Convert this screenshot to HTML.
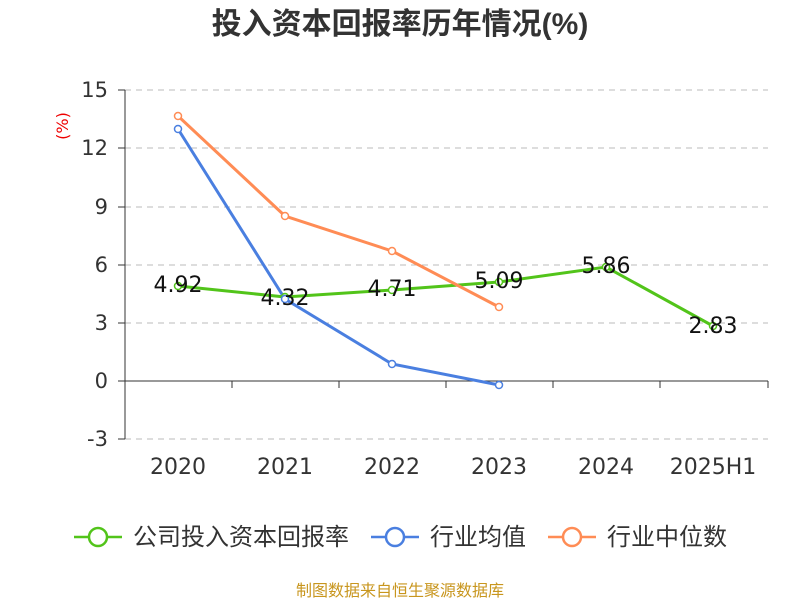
<!DOCTYPE html>
<html><head><meta charset="utf-8"><style>body{margin:0;background:#fff}svg{display:block}</style></head><body>
<svg width="800" height="600" xmlns="http://www.w3.org/2000/svg" font-family="DejaVu Sans, Noto Sans CJK SC, sans-serif">
<text x="400" y="34" text-anchor="middle" font-size="30" font-weight="bold" fill="#333" font-family="Liberation Sans, Noto Sans CJK SC, sans-serif">投入资本回报率历年情况(%)</text>
<text x="68" y="126" font-size="16" fill="#e00" transform="rotate(-90 68 126)" text-anchor="middle">(%)</text>
<g stroke="#bbb" stroke-dasharray="6,5">
<line x1="125" y1="90" x2="768" y2="90"/><line x1="125" y1="148" x2="768" y2="148"/><line x1="125" y1="207" x2="768" y2="207"/><line x1="125" y1="265" x2="768" y2="265"/><line x1="125" y1="323" x2="768" y2="323"/><line x1="125" y1="439" x2="768" y2="439"/>
</g>
<g stroke="#333"><line x1="125" y1="90" x2="125" y2="439"/><line x1="125" y1="381" x2="768" y2="381"/>
<line x1="118" y1="90" x2="125" y2="90"/><line x1="118" y1="148" x2="125" y2="148"/><line x1="118" y1="207" x2="125" y2="207"/><line x1="118" y1="265" x2="125" y2="265"/><line x1="118" y1="323" x2="125" y2="323"/><line x1="118" y1="381" x2="125" y2="381"/><line x1="118" y1="439" x2="125" y2="439"/>
<line x1="232" y1="381" x2="232" y2="388"/><line x1="339" y1="381" x2="339" y2="388"/><line x1="446" y1="381" x2="446" y2="388"/><line x1="553" y1="381" x2="553" y2="388"/><line x1="660" y1="381" x2="660" y2="388"/><line x1="768" y1="381" x2="768" y2="388"/></g>
<g font-size="21" fill="#333" text-anchor="end"><text x="108" y="97">15</text><text x="108" y="155">12</text><text x="108" y="214">9</text><text x="108" y="272">6</text><text x="108" y="330">3</text><text x="108" y="388">0</text><text x="108" y="446">-3</text></g>
<g font-size="22" fill="#333" text-anchor="middle"><text x="178" y="474">2020</text><text x="285" y="474">2021</text><text x="392" y="474">2022</text><text x="499" y="474">2023</text><text x="606" y="474">2024</text><text x="713" y="474">2025H1</text></g>
<g fill="#fff" stroke-width="3">
<polyline fill="none" stroke="#52c41a" points="178,286 285,297 392,290 499,282 606,267 713,326"/>
<polyline fill="none" stroke="#4a7fe0" points="178,129 285,299 392,364 499,385"/>
<polyline fill="none" stroke="#ff8c55" points="178,116 285,216 392,251 499,307"/>
</g>
<g fill="#fff" stroke-width="1.5">
<g stroke="#52c41a"><circle cx="178" cy="286" r="3.5"/><circle cx="285" cy="297" r="3.5"/><circle cx="392" cy="290" r="3.5"/><circle cx="499" cy="282" r="3.5"/><circle cx="606" cy="267" r="3.5"/><circle cx="713" cy="326" r="3.5"/></g>
<g stroke="#4a7fe0"><circle cx="178" cy="129" r="3.5"/><circle cx="285" cy="299" r="3.5"/><circle cx="392" cy="364" r="3.5"/><circle cx="499" cy="385" r="3.5"/></g>
<g stroke="#ff8c55"><circle cx="178" cy="116" r="3.5"/><circle cx="285" cy="216" r="3.5"/><circle cx="392" cy="251" r="3.5"/><circle cx="499" cy="307" r="3.5"/></g>
</g>
<g font-size="22" fill="#111" text-anchor="middle"><text x="178" y="292">4.92</text><text x="285" y="305">4.32</text><text x="392" y="296">4.71</text><text x="499" y="288">5.09</text><text x="606" y="273">5.86</text><text x="713" y="333">2.83</text></g>
<g stroke-width="2.5" fill="#fff">
<line x1="74" y1="537" x2="122" y2="537" stroke="#52c41a"/><circle cx="98" cy="537" r="9" stroke="#52c41a"/>
<line x1="371" y1="537" x2="419" y2="537" stroke="#4a7fe0"/><circle cx="395" cy="537" r="9" stroke="#4a7fe0"/>
<line x1="548" y1="537" x2="596" y2="537" stroke="#ff8c55"/><circle cx="572" cy="537" r="9" stroke="#ff8c55"/>
</g>
<g font-size="24" fill="#333"><text x="133" y="545">公司投入资本回报率</text><text x="430" y="545">行业均值</text><text x="607" y="545">行业中位数</text></g>
<text x="400" y="596" text-anchor="middle" font-size="16" fill="#c8961e">制图数据来自恒生聚源数据库</text>
</svg>
</body></html>
